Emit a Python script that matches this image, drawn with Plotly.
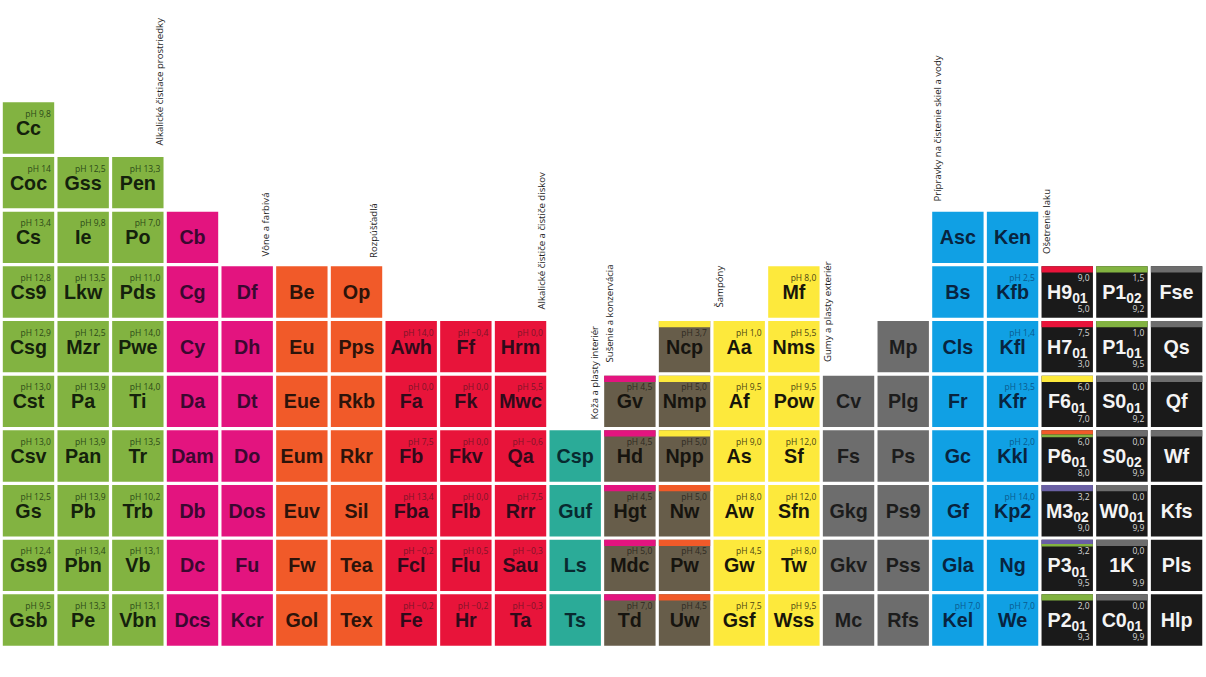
import plotly.graph_objects as go

# one list per column, every column is bottom aligned on the last row
column_symbols = [
    ["Cc", "Coc", "Cs", "Cs9", "Csg", "Cst", "Csv", "Gs", "Gs9", "Gsb"],
    ["Gss", "Ie", "Lkw", "Mzr", "Pa", "Pan", "Pb", "Pbn", "Pe"],
    ["Pen", "Po", "Pds", "Pwe", "Ti", "Tr", "Trb", "Vb", "Vbn"],
    ["Cb", "Cg", "Cy", "Da", "Dam", "Db", "Dc", "Dcs"],
    ["Df", "Dh", "Dt", "Do", "Dos", "Fu", "Kcr"],
    ["Be", "Eu", "Eue", "Eum", "Euv", "Fw", "Gol"],
    ["Op", "Pps", "Rkb", "Rkr", "Sil", "Tea", "Tex"],
    ["Awh", "Fa", "Fb", "Fba", "Fcl", "Fe"],
    ["Ff", "Fk", "Fkv", "Flb", "Flu", "Hr"],
    ["Hrm", "Mwc", "Qa", "Rrr", "Sau", "Ta"],
    ["Csp", "Guf", "Ls", "Ts"],
    ["Gv", "Hd", "Hgt", "Mdc", "Td"],
    ["Ncp", "Nmp", "Npp", "Nw", "Pw", "Uw"],
    ["Aa", "Af", "As", "Aw", "Gw", "Gsf"],
    ["Mf", "Nms", "Pow", "Sf", "Sfn", "Tw", "Wss"],
    ["Cv", "Fs", "Gkg", "Gkv", "Mc"],
    ["Mp", "Plg", "Ps", "Ps9", "Pss", "Rfs"],
    ["Asc", "Bs", "Cls", "Fr", "Gc", "Gf", "Gla", "Kel"],
    ["Ken", "Kfb", "Kfl", "Kfr", "Kkl", "Kp2", "Ng", "We"],
    ["H9", "H7", "F6", "P6", "M3", "P3", "P2"],
    ["P1", "P1", "S0", "S0", "W0", "1K", "C0"],
    ["Fse", "Qs", "Qf", "Wf", "Kfs", "Pls", "Hlp"],
]
column_subs = {
    19: ["01", "01", "01", "01", "02", "01", "01"],
    20: ["02", "01", "01", "02", "01", "", "01"],
}
column_ph = [
    [9.8, 14, 13.4, 12.8, 12.9, 13.0, 13.0, 12.5, 12.4, 9.5],
    [12.5, 9.8, 13.5, 12.5, 13.9, 13.9, 13.9, 13.4, 13.3],
    [13.3, 7.0, 11.0, 14.0, 14.0, 13.5, 10.2, 13.1, 13.1],
    [None] * 8,
    [None] * 7,
    [None] * 7,
    [None] * 7,
    [14.0, 0.0, 7.5, 13.4, -0.2, -0.2],
    [-0.4, 0.0, 0.0, 0.0, 0.5, -0.2],
    [0.0, 5.5, -0.6, 7.5, -0.3, -0.3],
    [None] * 4,
    [4.5, 4.5, 4.5, 5.0, 7.0],
    [3.7, 5.0, 5.0, 5.0, 4.5, 4.5],
    [1.0, 9.5, 9.0, 8.0, 4.5, 7.5],
    [8.0, 5.5, 9.5, 12.0, 12.0, 8.0, 9.5],
    [None] * 5,
    [None] * 6,
    [None] * 7 + [7.0],
    [None, 2.5, 1.4, 13.5, 2.0, 14.0, None, 7.0],
    [9.0, 7.5, 6.0, 6.0, 3.2, 3.2, 2.0],
    [1.5, 1.0, 0.0, 0.0, 0.0, 0.0, 0.0],
    [None] * 7,
]
column_ph_low = {
    19: [5.0, 3.0, 7.0, 8.0, 9.0, 9.5, 9.3],
    20: [9.2, 9.5, 9.2, 9.9, 9.9, 9.9, 9.9],
}
column_groups = [
    "alkaline", "alkaline", "alkaline", "scent", "scent", "solvent", "solvent",
    "wheel", "wheel", "wheel", "leather", "drying", "drying", "shampoo", "shampoo",
    "rubber", "rubber", "glass", "glass", "paint", "paint", "paint",
]
column_stripes = {
    11: ["scent"] * 5,
    12: ["shampoo", "shampoo", "shampoo", "solvent", "solvent", "solvent"],
    19: ["wheel", "wheel", "shampoo", "solvent+alkaline", "purple", "purple+alkaline", "alkaline"],
    20: ["alkaline", "alkaline", "rubber", "rubber", "rubber", "rubber", "rubber"],
    21: ["rubber", "rubber", "rubber", "rubber", None, None, None],
}
group_labels = [
    "Alkalické čistiace prostriedky", "Vône a farbivá", "Rozpúšťadlá",
    "Alkalické čističe a čističe diskov", "Koža a plasty interiér",
    "Sušenie a konzervácia", "Šampóny", "Gumy a plasty exteriér",
    "Prípravky na čistenie skiel a vody", "Ošetrenie laku",
]

# styles and positions
fill_colors = {
    "alkaline": "#82b341", "scent": "#e3147f", "solvent": "#f15a29", "wheel": "#e8143a",
    "leather": "#2bab98", "drying": "#675d4a", "shampoo": "#fde93c", "rubber": "#6d6d6d",
    "glass": "#10a0e4", "paint": "#1a1a1a", "purple": "#6a60a4",
}
symbol_colors = {
    "alkaline": "#14210c", "scent": "#3a0830", "solvent": "#2c130a", "wheel": "#300a1a",
    "leather": "#082a30", "drying": "#16140f", "shampoo": "#18160a", "rubber": "#1c1c1c",
    "glass": "#08243f", "paint": "#f4f4f4",
}
ph_colors = {
    "alkaline": "#2c4a18", "wheel": "#7c1428", "drying": "#2e2a22", "shampoo": "#4a4512",
    "glass": "#0a5a8e", "paint": "#d8d8d8",
}
label_x = [158.5, 264.5, 373.5, 540.5, 593.5, 608.5, 718.5, 827.5, 936.5, 1046.5]
label_bottom = [148, 259, 260, 312, 422, 365, 310, 364, 204, 256]

PITCH = 54.67
X0 = 28.5
Y0 = 128.0
CELL = 0.94
STRIPE = 0.115


def to_x(px):
    return (px - X0) / PITCH


def to_y(px):
    return (px - Y0) / PITCH


def ph_text(value, prefix="pH "):
    if isinstance(value, int):
        return prefix + str(value)
    return prefix + f"{value:.1f}".replace(".", ",").replace("-", "−")


fig = go.Figure()

for group in fill_colors:
    xs, tops = [], []
    for col, symbols in enumerate(column_symbols):
        if column_groups[col] == group:
            first = 10 - len(symbols)
            xs += [col] * len(symbols)
            tops += [first + i for i in range(len(symbols))]
    if xs:
        fig.add_trace(go.Bar(x=xs, y=[CELL] * len(xs), base=[t - CELL / 2 for t in tops], width=CELL,
                             marker=dict(color=fill_colors[group], line_width=0), hoverinfo="skip"))

# coloured stripes on top of the two-component products
for col, stripes in column_stripes.items():
    first = 10 - len(stripes)
    for i, stripe in enumerate(stripes):
        if stripe is None:
            continue
        parts = stripe.split("+")
        if len(parts) == 1:
            heights = [STRIPE]
        else:
            heights = [STRIPE * 0.68, STRIPE * 0.42]
        base = first + i - CELL / 2
        for part, h in zip(parts, heights):
            fig.add_trace(go.Bar(x=[col], y=[h], base=[base], width=CELL,
                                 marker=dict(color=fill_colors[part], line_width=0), hoverinfo="skip"))
            base += h

for col, symbols in enumerate(column_symbols):
    group = column_groups[col]
    first = 10 - len(symbols)
    rows = [first + i for i in range(len(symbols))]
    subs = column_subs.get(col, [""] * len(symbols))
    labels = [f"{s}<sub>{b}</sub>" if b else s for s, b in zip(symbols, subs)]
    fig.add_trace(go.Scatter(
        x=[col] * len(rows), y=[r + 0.04 for r in rows], text=labels, mode="text", textposition="middle center",
        textfont=dict(family="Liberation Sans", size=19.7, weight="bold", color=symbol_colors[group]),
        hoverinfo="skip"))
    # only the cells that have a value get a small text
    known = [(r, v) for r, v in zip(rows, column_ph[col]) if v is not None]
    if known:
        prefix = "" if col in column_ph_low else "pH "
        fig.add_trace(go.Scatter(
            x=[col + CELL / 2 - 0.06] * len(known), y=[r - 0.24 for r, v in known],
            text=[ph_text(v, prefix) for r, v in known], mode="text", textposition="middle left",
            textfont=dict(family="Open Sans", size=8.5, color=ph_colors[group]), hoverinfo="skip"))
    if col in column_ph_low:
        fig.add_trace(go.Scatter(
            x=[col + CELL / 2 - 0.06] * len(rows), y=[r + 0.335 for r in rows],
            text=[ph_text(v, "") for v in column_ph_low[col]], mode="text", textposition="middle left",
            textfont=dict(family="Open Sans", size=8.5, color=ph_colors[group]), hoverinfo="skip"))

for label, lx, lb in zip(group_labels, label_x, label_bottom):
    fig.add_annotation(x=to_x(lx), y=to_y(lb), text=label, textangle=-90, showarrow=False,
                       xanchor="center", yanchor="bottom",
                       font=dict(family="Open Sans", size=9.6, color="#1e1e1e"))

fig.update_layout(
    width=1206, height=677, margin=dict(l=0, r=0, t=0, b=0),
    paper_bgcolor="white", plot_bgcolor="white", showlegend=False, barmode="overlay",
    xaxis=dict(visible=False, range=[to_x(0), to_x(1206)], fixedrange=True),
    yaxis=dict(visible=False, range=[to_y(677), to_y(0)], fixedrange=True),
)

fig.write_html("out.html", post_script="document.body.style.margin='0';", config={"displayModeBar": False})
